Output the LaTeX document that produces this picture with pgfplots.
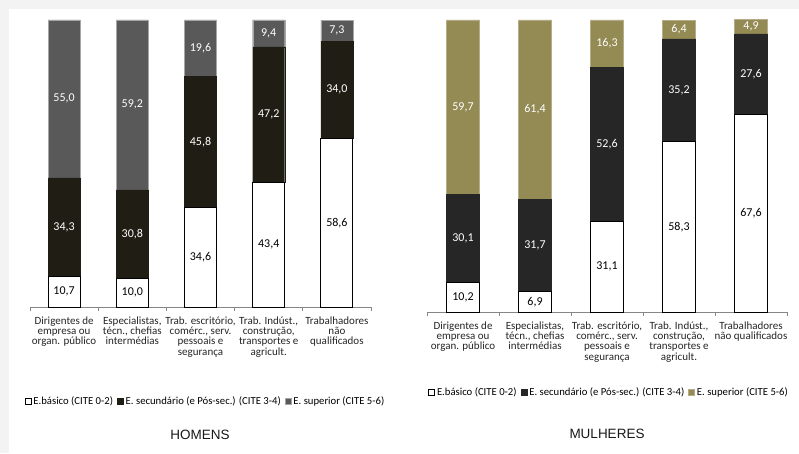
\documentclass[border=0pt]{standalone}
\usepackage{pgfplots}
\pgfplotsset{compat=1.18}
\usepackage{pgfplotstable}
\usepackage{fontspec}
\setmainfont{Carlito}
\newfontfamily\arialfont{Liberation Sans}
\definecolor{mgray}{HTML}{595959}
\definecolor{mdark}{HTML}{201E14}
\definecolor{wdark}{HTML}{262626}
\definecolor{wolive}{HTML}{948A54}
\definecolor{axisgray}{HTML}{868686}
\definecolor{shadow}{HTML}{F3F3F3}

\pgfplotstableread{
x basico secundario superior
0 10.7 34.3 55.0
1 10.0 30.8 59.2
2 34.6 45.8 19.6
3 43.4 47.2 9.4
4 58.6 34.0 7.3
}\homens
\pgfplotstableread{
x basico secundario superior
0 10.2 30.1 59.7
1 6.9 31.7 61.4
2 31.1 52.6 16.3
3 58.3 35.2 6.4
4 67.6 27.6 4.9
}\mulheres

\pgfplotsset{
  panel/.style={
    ybar stacked, scale only axis, clip=false,
    ymin=0, ymax=100.1, xmin=-0.5, xmax=4.5,
    axis x line*=bottom, axis y line=none,
    axis line style={axisgray, line width=0.8pt},
    xtick={0,...,4}, major tick length=0pt,
    minor xtick={-0.5,0.5,...,4.5}, minor tick length=4pt, tick align=outside,
    minor tick style={axisgray, line width=0.8pt},
    xticklabel style={font=\fontsize{11}{10.3}\selectfont, align=center, anchor=north, yshift=-6pt, text=black!85},
    legend columns=3,
    legend style={draw=none, fill=none, font=\fontsize{10.7}{11}\selectfont, anchor=center,
      /tikz/every even column/.append style={column sep=2pt}},
    legend image code/.code={\draw[#1, line width=0.6pt] (0pt,-3pt) rectangle (6pt,3pt);},
  },
  labels/.style={
    scale only axis, clip=false, hide axis,
    ymin=0, ymax=100.1, xmin=-0.5, xmax=4.5,
    /pgf/number format/.cd, fixed, fixed zerofill, precision=1, use comma, assume math mode=true,
    /pgfplots/.cd,
  },
  lab/.style={draw=none, mark=none, nodes near coords, point meta=explicit,
    every node near coord/.style={anchor=center, text=#1, font=\fontsize{12}{12}\selectfont}},
}

\begin{document}
\begin{tikzpicture}[x=1pt,y=1pt]
\useasboundingbox (0,0) rectangle (799,453);
\fill[shadow] (0,0) rectangle (799,453);
\fill[white] (9,0) rectangle (799,444);

% ---------- HOMENS ----------
\begin{axis}[panel, at={(30pt,146pt)}, anchor=south west, width=341pt, height=287.5pt,
  bar width=32pt,
  xticklabels={{Dirigentes de\\empresa ou\\organ. público},{Especialistas,\\técn., chefias\\intermédias},{Trab. escritório,\\comérc., serv.\\pessoais e\\segurança},{Trab. Indúst.,\\construção,\\transportes e\\agricult.},{Trabalhadores\\não\\qualificados}},
  legend style={at={(0.515,-0.327)}}]
\addplot[fill=white, draw=black, line width=1pt] table[x=x,y=basico]{\homens};
\addplot[fill=mdark, draw=mdark] table[x=x,y=secundario]{\homens};
\addplot[fill=mgray, draw=gray!70] table[x=x,y=superior]{\homens};
\legend{E.básico (CITE 0-2),E. secundário (e Pós-sec.) (CITE 3-4),E. superior (CITE 5-6)}
\end{axis}
\begin{axis}[labels, at={(30pt,146pt)}, anchor=south west, width=341pt, height=287.5pt]
\addplot[lab=black] table[x=x, y expr=\thisrow{basico}/2, meta=basico]{\homens};
\addplot[lab=white] table[x=x, y expr=\thisrow{basico}+\thisrow{secundario}/2, meta=secundario]{\homens};
\addplot[lab=white] table[x=x, y expr=\thisrow{basico}+\thisrow{secundario}+\thisrow{superior}/2, meta=superior]{\homens};
\end{axis}

% ---------- MULHERES ----------
\begin{axis}[panel, at={(427pt,141pt)}, anchor=south west, width=360pt, height=292.5pt,
  bar width=33pt,
  xticklabels={{Dirigentes de\\empresa ou\\organ. público},{Especialistas,\\técn., chefias\\intermédias},{Trab. escritório,\\comérc., serv.\\pessoais e\\segurança},{Trab. Indúst.,\\construção,\\transportes e\\agricult.},{Trabalhadores\\não qualificados}},
  legend style={at={(0.506,-0.274)}}]
\addplot[fill=white, draw=black, line width=1pt] table[x=x,y=basico]{\mulheres};
\addplot[fill=wdark, draw=wdark] table[x=x,y=secundario]{\mulheres};
\addplot[fill=wolive, draw=wolive!70!white] table[x=x,y=superior]{\mulheres};
\legend{E.básico (CITE 0-2),E. secundário (e Pós-sec.) (CITE 3-4),E. superior (CITE 5-6)}
\end{axis}
\begin{axis}[labels, at={(427pt,141pt)}, anchor=south west, width=360pt, height=292.5pt]
\addplot[lab=black] table[x=x, y expr=\thisrow{basico}/2, meta=basico]{\mulheres};
\addplot[lab=white] table[x=x, y expr=\thisrow{basico}+\thisrow{secundario}/2, meta=secundario]{\mulheres};
\addplot[lab=white] table[x=x, y expr=\thisrow{basico}+\thisrow{secundario}+\thisrow{superior}/2, meta=superior]{\mulheres};
\end{axis}

\node[font=\arialfont\fontsize{13.5}{14}\selectfont, text=black!90] at (200,18) {HOMENS};
\node[font=\arialfont\fontsize{13.5}{14}\selectfont, text=black!90] at (607,19) {MULHERES};
\end{tikzpicture}
\end{document}
